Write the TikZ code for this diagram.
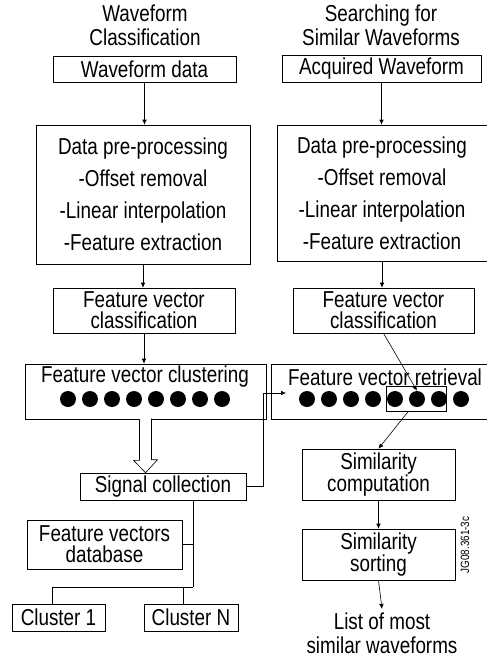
\documentclass[tikz,border=0pt]{standalone}
\usepackage{fontspec}
\setmainfont{Liberation Sans}[FakeStretch=0.82]
\usetikzlibrary{arrows.meta,calc}

\tikzset{
  box/.style={draw, inner sep=0pt, align=center},
  dot/.style={circle, fill, inner sep=0pt, minimum size=16pt},
  >={Latex[length=5pt,width=4.5pt]},
}

\begin{document}
\begin{tikzpicture}[x=1pt,y=-1pt,line width=0.6pt,
  every node/.style={font=\fontsize{23}{21}\selectfont}]
  \useasboundingbox (0,0) rectangle (487,657);
  % titles
  \node[align=center, font=\fontsize{23}{24}\selectfont] (tl) at (145,25) {Waveform\\Classification};
  \node[align=center, font=\fontsize{23}{24}\selectfont] (tr) at (381,25) {Searching for\\Similar Waveforms};
  % left column
  \node[box, minimum width=183, minimum height=26] (wdata) at (144.5,69) {Waveform data};
  \node[box, minimum width=214, minimum height=139, font=\fontsize{23}{32}\selectfont] (preL) at (143,194.5)
    {Data pre-processing\\-Offset removal\\-Linear interpolation\\-Feature extraction};
  \node[box, minimum width=182, minimum height=45] (fvcL) at (144,310.5) {Feature vector\\classification};
  \node[box, minimum width=241, minimum height=55] (clusL) at (145.5,391.5) {};
  \node (clusT) at (145,377) {Feature vector clustering};
  \foreach \i in {1,...,8}
    \node[dot] (l\i) at (46+22*\i,399) {};
  \node[box, minimum width=166, minimum height=27] (sig) at (163,486.5) {Signal collection};
  \node[box, minimum width=155, minimum height=49] (db) at (104.5,544.5) {Feature vectors\\database};
  \node[box, minimum width=93, minimum height=27] (c1) at (58.5,617.5) {Cluster 1};
  \node[box, minimum width=94, minimum height=27] (cN) at (191,617.5) {Cluster N};
  % right column
  \node[box, minimum width=199, minimum height=27] (acq) at (381.5,68.5) {Acquired Waveform};
  \node[box, minimum width=210, minimum height=136, font=\fontsize{23}{32}\selectfont] (preR) at (382,193)
    {Data pre-processing\\-Offset removal\\-Linear interpolation\\-Feature extraction};
  \node[box, minimum width=181, minimum height=45] (fvcR) at (383.5,310.5) {Feature vector\\classification};
  \node[box, minimum width=216, minimum height=55] (retr) at (379,391.5) {};
  \node (retrT) at (385,377) {Feature vector retrieval};
  \foreach \i in {1,...,8}
    \node[dot] (r\i) at (285+22*\i,399) {};
  \node[draw, inner sep=0pt, minimum width=60, minimum height=25] (sel) at (416,399) {};
  \node[box, minimum width=153, minimum height=51] (simc) at (378.5,474.5) {Similarity\\computation};
  \node[box, minimum width=153, minimum height=51] (sims) at (378.5,554.5) {Similarity\\sorting};
  \node[align=center, font=\fontsize{23}{24}\selectfont] (list) at (382,633) {List of most\\similar waveforms};
  \node[rotate=90, font=\fontsize{12}{12}\selectfont] (code) at (465,545) {JG08.361-3c};

  % connectors
  \draw[->] (wdata.south) -- (wdata.south |- preL.north);
  \draw[->] (preL.south) -- (preL.south |- fvcL.north);
  \draw[->] (fvcL.south) -- (fvcL.south |- clusL.north);
  \draw[fill=white] ($(clusL.south)+(-6,0)$) -- ++(0,41) -- ++(-6,0) -- (clusL.south |- sig.north)
    -- ++(12,-13) -- ++(-6,0) -- ++(0,-41);
  \coordinate (rin) at (286,393);
  \draw[->] (sig.east) -- ++(17,0) |- (rin);
  \coordinate (jn) at (193,587);
  \draw (jn |- sig.south) -- (jn);
  \draw (db.east) -- (db.east -| jn);
  \draw (jn) -| ([xshift=-6pt]c1.north);
  \draw ([xshift=-8pt]cN.north) -- ([xshift=-8pt]cN.north |- jn);
  \draw[->] (acq.south) -- (acq.south |- preR.north);
  \draw[->] (preR.south) -- (preR.south |- fvcR.north);
  \draw[->] (fvcR.south) -- (r6.north);
  \draw[->] ([xshift=-8pt]sel.south) -- (simc.north);
  \draw[->] (simc.south) -- (sims.north);
  \draw[->] (sims.south) -- (list.north);
\end{tikzpicture}
\end{document}
